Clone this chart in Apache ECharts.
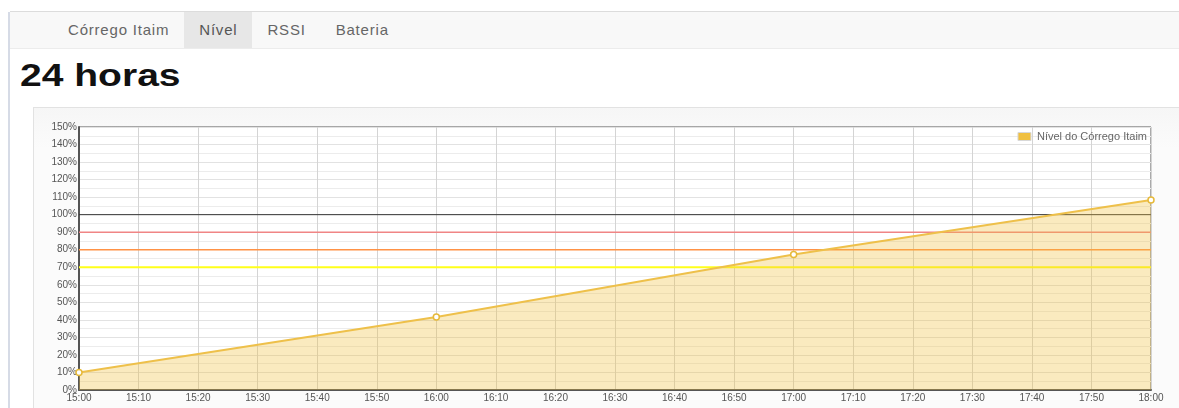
<!DOCTYPE html>
<html>
<head>
<meta charset="utf-8">
<script src="https://cdn.jsdelivr.net/npm/echarts@6/dist/echarts.min.js"></script>
<style>
  html, body { margin: 0; padding: 0; width: 1179px; height: 408px; overflow: hidden; background: #fff; font-family: "Liberation Sans", Arial, sans-serif; }
  .sidebar-edge { position: absolute; left: 8px; top: 12px; width: 2px; height: 396px; background: #d6dbe6; }
  .navbar { position: absolute; left: 10px; top: 11px; width: 1169px; height: 36px; background: #f8f8f8; border-top: 1px solid #dcdcdc; border-bottom: 1px solid #ececec; }
  .navbar ul { list-style: none; margin: 0; padding: 0; position: absolute; left: 43px; top: 0; display: flex; }
  .navbar li { padding: 0 15px; line-height: 36px; font-size: 15px; letter-spacing: 0.8px; color: #666; }
  .navbar li.active { background: #e7e7e7; color: #555; }
  h1 { position: absolute; left: 20px; top: 57px; margin: 0; font-size: 32px; font-weight: bold; color: #111; transform: scaleX(1.22); transform-origin: left center; }
  .panel { position: absolute; left: 33px; top: 107px; width: 1146px; height: 301px; background: linear-gradient(#f6f6f6, #fbfbfb 40px, #fbfbfb); border-top: 1px solid #e2e2e2; border-left: 1px solid #e2e2e2; box-sizing: border-box; }
  #chart { position: absolute; left: 33px; top: 108px; width: 1146px; height: 300px; }
</style>
</head>
<body>
<div class="sidebar-edge"></div>
<div class="navbar">
  <ul>
    <li>Córrego Itaim</li>
    <li class="active">Nível</li>
    <li>RSSI</li>
    <li>Bateria</li>
  </ul>
</div>
<h1>24 horas</h1>
<div class="panel"></div>
<div id="chart"></div>
<script>
// Data
const times = ['15:00', '16:00', '17:00', '18:00'];
const nivel = [10, 41.6, 77.3, 108.4];
const thresholds = [100, 90, 80, 70];
const thresholdColors = ['#333333', '#f08585', '#ff9245', '#ffff1a'];
const thresholdWidths = [1, 1.5, 1.5, 2];
const xStart = '15:00', xEnd = '18:00';

const toMin = t => { const [h, m] = t.split(':').map(Number); return h * 60 + m; };
const pad = n => String(n).padStart(2, '0');

// horizontal limit lines, each a flat two-point series across the axis
const thresholdSeries = thresholds.map((v, i) => ({
    name: 'limite' + v,
    type: 'line',
    silent: true,
    symbol: 'none',
    z: 2,
    data: [[toMin(xStart), v], [toMin(xEnd), v]],
    lineStyle: { color: thresholdColors[i], width: thresholdWidths[i], type: 'solid' }
}));

const chart = echarts.init(document.getElementById('chart'));
chart.setOption({
    animation: false,
    backgroundColor: 'transparent',
    textStyle: { fontFamily: 'Liberation Sans, Arial, sans-serif' },
    grid: { left: 46, right: 28, top: 19, bottom: 18, show: true, borderColor: '#555', borderWidth: 1, backgroundColor: '#fff' },
    legend: {
        right: 32, top: 23,
        padding: 0, itemGap: 0,
        itemWidth: 13, itemHeight: 8, icon: 'rect',
        itemStyle: { color: '#f0c040', borderColor: '#d8d8d8', borderWidth: 1 },
        textStyle: { fontSize: 11, color: '#666', padding: [0, 0, 0, 1] },
        data: ['Nível do Córrego Itaim']
    },
    xAxis: {
        type: 'value', min: toMin(xStart), max: toMin(xEnd), interval: 10,
        axisLine: { show: true, lineStyle: { color: '#555', width: 2 } },
        axisTick: { show: false },
        axisLabel: { fontSize: 10, color: '#555', margin: 3, formatter: v => pad(Math.floor(v / 60)) + ':' + pad(v % 60) },
        splitLine: { show: true, lineStyle: { color: '#d4d4d4', width: 1 } }
    },
    yAxis: {
        type: 'value', min: 0, max: 150, interval: 10,
        axisLine: { show: true, lineStyle: { color: '#555', width: 2 } },
        axisTick: { show: false },
        axisLabel: { fontSize: 10, color: '#555', margin: 2, formatter: '{value}%' },
        splitLine: { show: true, lineStyle: { color: '#e2e2e2', width: 1 } },
        minorTick: { show: false, splitNumber: 2 },
        minorSplitLine: { show: true, lineStyle: { color: '#ececec', width: 1 } }
    },
    series: thresholdSeries.concat([{
        name: 'Nível do Córrego Itaim',
        type: 'line',
        z: 3,
        data: times.map((t, i) => [toMin(t), nivel[i]]),
        color: '#eec04a',
        lineStyle: { color: '#eec04a', width: 2 },
        itemStyle: { color: '#fff', borderColor: '#e6b93a', borderWidth: 1.5 },
        symbol: 'circle', symbolSize: 6,
        areaStyle: { color: 'rgba(240,192,64,0.48)' }
    }])
});
</script>
</body>
</html>
